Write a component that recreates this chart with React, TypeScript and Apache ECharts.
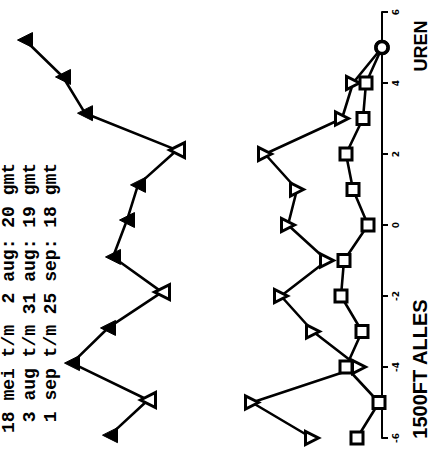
import React, { useEffect, useRef } from "react";
import * as echarts from "echarts";

// Hours (UREN) for the two lower series
const hours = [-6, -5, -4, -3, -2, -1, 0, 1, 2, 3, 4, 5];
// Upper series positions as read (slightly skewed in the scan)
const upperHours = [-5.92, -4.93, -3.89, -2.9, -1.89, -0.9, 0.14, 1.13, 2.11, 3.15, 4.17, 5.21];
const upperValues = [27.2, 23.4, 31.0, 27.4, 22.0, 26.9, 25.5, 24.4, 20.5, 29.7, 31.9, 35.7];
const upperOpen = [false, true, false, false, true, false, false, false, true, false, false, false];
// Lower triangle series
const triangleValues = [7.0, 13.0, 2.3, 6.9, 10.1, 5.5, 9.4, 8.5, 11.7, 4.0, 2.9, 0];
// Lower square series
const squareValues = [2.5, 0.3, 3.6, 2.0, 4.1, 3.8, 1.4, 2.9, 3.6, 1.9, 1.6, 0];
// Axis tick labels
const hourTicks = [-6, -4, -2, 0, 2, 4, 6];
// Legend lines
const legendLines = [
  "18 mei t/m  2 aug: 20 gmt",
  " 3 aug t/m 31 aug: 19 gmt",
  " 1 sep t/m 25 sep: 18 gmt",
];
const axisTitle = "UREN";
const chartTitle = "1500FT ALLES";

export default function App() {
  const ref = useRef<HTMLDivElement>(null);
  useEffect(() => {
    if (!ref.current) return;
    const chart = echarts.init(ref.current, null, { renderer: "svg" });
    const lineStyle = { color: "#000", width: 2.6 };
    const upperData = upperValues.map((v, i) => ({
      value: [v, upperHours[i]],
      itemStyle: upperOpen[i]
        ? { color: "#fff", borderColor: "#000", borderWidth: 3 }
        : { color: "#000", borderColor: "#000", borderWidth: 1 },
    }));
    const lowerData = (vals: number[], sym: string, rot: number) =>
      vals.map((v, i) =>
        hours[i] === 5 && v === 0
          ? {
              value: [v, hours[i]],
              symbol: "circle",
              symbolSize: 12,
              symbolRotate: 0,
              itemStyle: { color: "#fff", borderColor: "#000", borderWidth: 3.5 },
            }
          : { value: [v, hours[i]], symbol: sym, symbolRotate: rot }
      );
    chart.setOption({
      animation: false,
      backgroundColor: "#fff",
      grid: { left: 0, right: 55, top: 12, bottom: 23 },
      xAxis: {
        type: "value",
        inverse: true,
        min: 0,
        max: 38.2,
        show: false,
      },
      yAxis: {
        type: "value",
        position: "right",
        min: -6,
        max: 6,
        interval: 2,
        axisLine: { show: true, lineStyle: { color: "#000", width: 2 } },
        axisTick: { show: true, inside: false, length: 6, lineStyle: { color: "#000", width: 2 } },
        splitLine: { show: false },
        axisLabel: {
          rotate: 90,
          margin: 9,
          color: "#000",
          fontSize: 9,
          fontWeight: "bold",
          fontFamily: "DejaVu Sans",
          formatter: (v: number) => (hourTicks.includes(v) ? String(v) : ""),
        },
      },
      series: [
        {
          type: "line",
          data: upperData,
          symbol: "triangle",
          symbolSize: 15,
          symbolRotate: 90,
          lineStyle,
          itemStyle: { color: "#000" },
          z: 3,
        },
        {
          type: "line",
          data: lowerData(triangleValues, "triangle", -90),
          symbolSize: 13,
          lineStyle,
          itemStyle: { color: "#fff", borderColor: "#000", borderWidth: 3 },
          z: 3,
        },
        {
          type: "line",
          data: lowerData(squareValues, "rect", 0),
          symbolSize: 12,
          lineStyle,
          itemStyle: { color: "#fff", borderColor: "#000", borderWidth: 3 },
          z: 4,
        },
      ],
      graphic: [
        ...legendLines.map((t, i) => ({
          type: "text",
          x: 9 + i * 21,
          y: 433,
          rotation: Math.PI / 2,
          style: {
            text: t.replace(/ /g, "\u00a0"),
            fill: "#000",
            font: "bold 18px 'Liberation Mono', 'DejaVu Sans Mono', monospace",
            align: "left",
            verticalAlign: "middle",
            textAlign: "left",
            textVerticalAlign: "middle",
          },
        })),
        {
          type: "text",
          x: 421,
          y: 46,
          rotation: Math.PI / 2,
          style: {
            text: axisTitle,
            fill: "#000",
            font: "bold 18px 'Liberation Sans', Arial, sans-serif",
            align: "center",
            verticalAlign: "middle",
            textAlign: "center",
            textVerticalAlign: "middle",
          },
        },
        {
          type: "text",
          x: 420,
          y: 369,
          rotation: Math.PI / 2,
          style: {
            text: chartTitle,
            fill: "#000",
            font: "bold 20px 'Liberation Sans', Arial, sans-serif",
            align: "center",
            verticalAlign: "middle",
            textAlign: "center",
            textVerticalAlign: "middle",
          },
        },
      ],
    });
    return () => chart.dispose();
  }, []);
  return (
    <div
      ref={ref}
      style={{ position: "absolute", left: 0, top: 0, width: 437, height: 461 }}
    />
  );
}
